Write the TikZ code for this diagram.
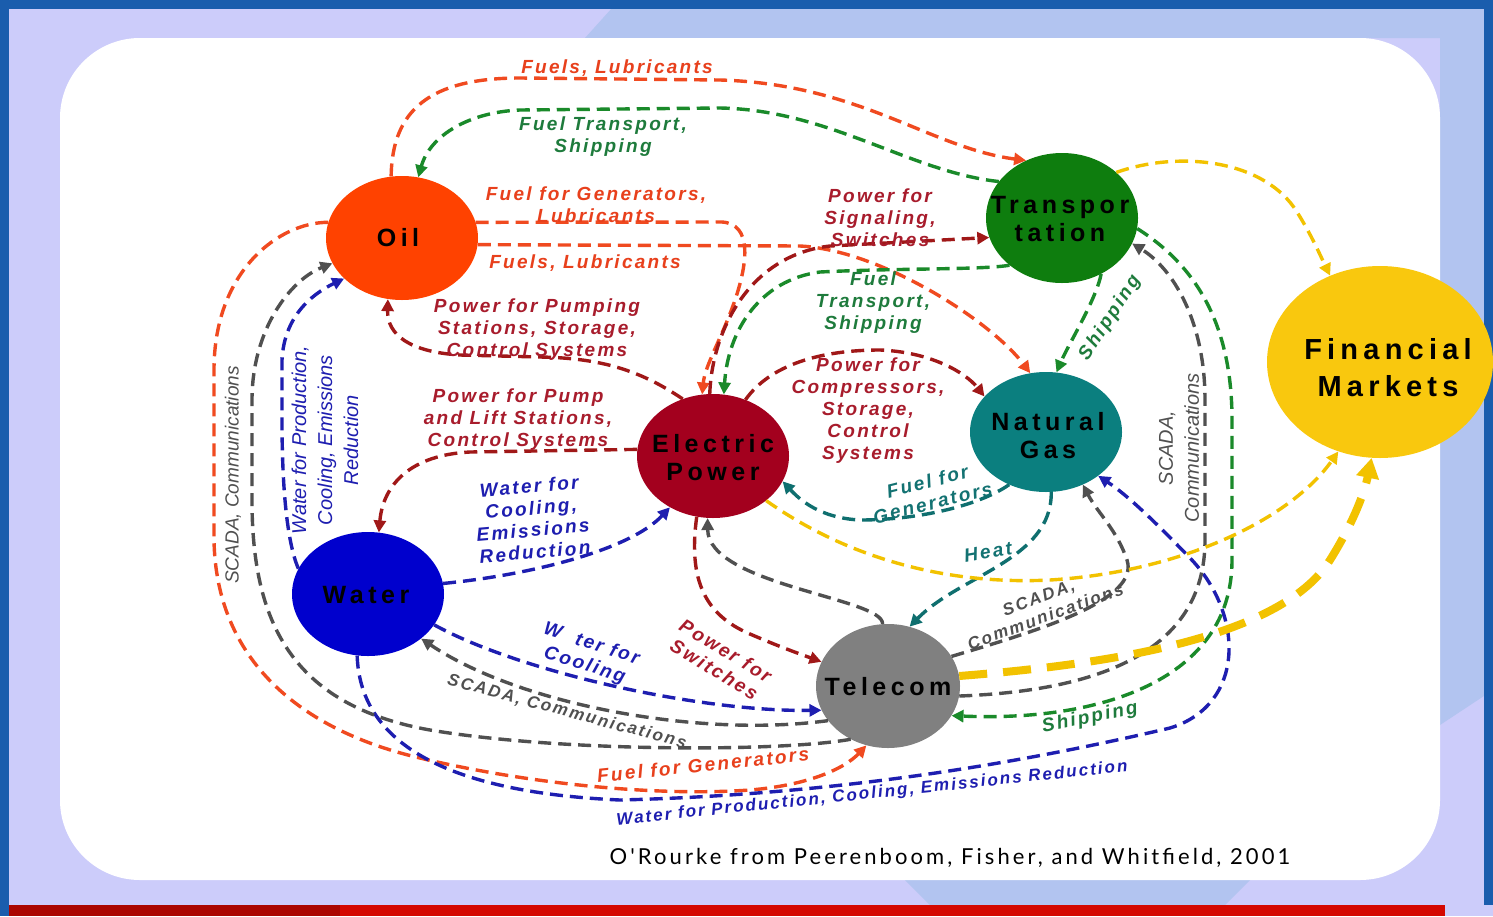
\documentclass[tikz,border=0pt]{standalone}
\usepackage{fontspec}
\setmainfont{Liberation Sans}
\newfontfamily\tagfam[LetterSpace=12]{Liberation Sans}
\newfontfamily\vtagfam{Liberation Sans}
\newfontfamily\hubfam[LetterSpace=18]{Liberation Sans}
\newfontfamily\credfam[LetterSpace=14]{Lato}
\usetikzlibrary{shapes.geometric, arrows.meta}

\definecolor{lavender}{HTML}{CCCCFA}
\definecolor{paleblue}{HTML}{B2C4F0}
\definecolor{framebl}{HTML}{1A5DAD}
\definecolor{barred}{HTML}{D40800}
\definecolor{oilfill}{HTML}{FF4200}
\definecolor{transfill}{HTML}{0E7D0E}
\definecolor{finfill}{HTML}{F9C80E}
\definecolor{gasfill}{HTML}{0B7F7F}
\definecolor{elecfill}{HTML}{A3001E}
\definecolor{waterfill}{HTML}{0000CD}
\definecolor{telfill}{HTML}{808080}
\definecolor{oilln}{HTML}{F04A20}
\definecolor{elecln}{HTML}{A01818}
\definecolor{transln}{HTML}{1A8A2A}
\definecolor{gasln}{HTML}{0F6F6F}
\definecolor{waterln}{HTML}{1E1EB0}
\definecolor{telln}{HTML}{505050}
\definecolor{finln}{HTML}{F2C200}
\definecolor{oiltx}{HTML}{E8401C}
\definecolor{electx}{HTML}{A81C2C}
\definecolor{transtx}{HTML}{1E7B3C}
\definecolor{gastx}{HTML}{137272}

\begin{document}
\begin{tikzpicture}[x=1pt, y=-1pt,
  hub/.style={ellipse, inner sep=0pt, minimum width=152pt, minimum height=124pt},
  hubtext/.style={font=\hubfam\bfseries\fontsize{25}{28}\selectfont, text=black, align=center},
  flow/.style={line width=3.4pt, dash pattern=on 13pt off 7pt, -{Triangle[length=12pt,width=12pt]}},
  finthick/.style={line width=8pt, dash pattern=on 28pt off 16pt, draw=finln, -{Triangle[length=20pt,width=22pt]}},
  tag/.style={font=\tagfam\bfseries\itshape\fontsize{19}{22}\selectfont, align=center, inner sep=0pt},
  smalltag/.style={font=\tagfam\bfseries\itshape\fontsize{17}{20}\selectfont, align=center, inner sep=0pt},
  vtag/.style={font=\vtagfam\itshape\fontsize{20}{26}\selectfont, align=center, inner sep=0pt, rotate=90}]
\useasboundingbox (0,0) rectangle (1493,916);

% background
\fill[lavender] (0,0) rectangle (1493,916);
\fill[paleblue] (612,8) -- (1493,8) -- (1493,690) -- (1440,725) -- (1440,38) -- (585,38) -- cycle;
\fill[paleblue] (905,880) -- (1250,880) -- (1225,905) -- (930,905) -- cycle;
\fill[framebl] (0,0) rectangle (1493,9);
\fill[framebl] (0,0) rectangle (9,916);
\fill[framebl] (1484,0) rectangle (1493,905);
\fill[barred] (9,905) rectangle (1445,916);
\fill[barred!80!black] (9,905) rectangle (340,916);
\fill[white, rounded corners=80pt] (60,38) rectangle (1440,880);

% sectors
\node[hub, fill=oilfill] (oil) at (402,238) {};
\node[hub, fill=transfill, minimum height=130pt] (trans) at (1062,218) {};
\node[hub, fill=finfill, minimum width=226pt, minimum height=192pt] (fin) at (1380,362) {};
\node[hub, fill=gasfill, minimum height=120pt] (gas) at (1046,432) {};
\node[hub, fill=elecfill] (elec) at (713,456) {};
\node[hub, fill=waterfill] (water) at (368,594) {};
\node[hub, fill=telfill, minimum width=144pt] (telecom) at (888,686) {};

\node[hubtext] (oilname) at (398,238) {Oil};
\node[hubtext] (transname) at (1060,219) {Transpor\\tation};
\node[hubtext, font=\hubfam\bfseries\fontsize{29}{37}\selectfont] (finname) at (1388,368) {Financial\\Markets};
\node[hubtext] (gasname) at (1048,436) {Natural\\Gas};
\node[hubtext] (elecname) at (713,458) {Electric\\Power};
\node[hubtext] (watername) at (366,595) {Water};
\node[hubtext] (telname) at (888,687) {Telecom};

% from oil
\draw[flow, draw=oilln] (oil.100) .. controls (392,110) and (430,78) .. (520,78) -- (720,80) .. controls (860,84) and (930,148) .. (trans.122);
\draw[flow, draw=oilln] (oil.12) -- (722,222) .. controls (752,224) and (748,262) .. (735,300) .. controls (722,338) and (705,365) .. (elec.100);
\draw[flow, draw=oilln] (oil.-5) -- (800,246) .. controls (880,250) and (990,320) .. (gas.105);
\draw[flow, draw=oilln] (oil.168) .. controls (280,222) and (214,270) .. (214,370) -- (214,540) .. controls (216,660) and (300,730) .. (420,758) .. controls (520,782) and (650,797) .. (750,790) .. controls (810,785) and (845,768) .. (telecom.-110);

% from electric power
\draw[flow, draw=elecln] (elec.118) .. controls (640,370) and (600,358) .. (540,357) -- (460,355) .. controls (410,352) and (387,335) .. (oil.-103);
\draw[flow, draw=elecln] (elec.93) .. controls (712,330) and (750,255) .. (830,246) -- (trans.195);
\draw[flow, draw=elecln] (elec.60) .. controls (770,365) and (820,350) .. (880,350) .. controls (930,352) and (965,372) .. (gas.150);
\draw[flow, draw=elecln] (elec.175) -- (470,452) .. controls (410,455) and (383,485) .. (water.80);
\draw[flow, draw=elecln] (elec.-105) .. controls (688,580) and (705,615) .. (750,634) .. controls (780,647) and (800,654) .. (telecom.160);

% from transportation
\draw[flow, draw=transln] (trans.150) .. controls (910,172) and (830,110) .. (720,108) -- (520,110) .. controls (470,112) and (430,135) .. (oil.75);
\draw[flow, draw=transln] (trans.222) .. controls (980,270) and (900,268) .. (820,272) .. controls (760,280) and (728,330) .. (elec.80);
\draw[flow, draw=transln] (trans.-55) .. controls (1096,300) and (1068,345) .. (gas.80);
\draw[flow, draw=transln] (trans.-8) .. controls (1200,268) and (1232,330) .. (1232,420) -- (1232,560) .. controls (1232,680) and (1100,722) .. (telecom.-25);

% from natural gas
\draw[flow, draw=gasln] (gas.235) .. controls (980,505) and (920,520) .. (860,520) .. controls (820,518) and (800,500) .. (elec.-20);
\draw[flow, draw=gasln] (gas.-85) .. controls (1052,560) and (960,575) .. (telecom.70);

% from water
\draw[flow, draw=waterln] (water.8) .. controls (530,575) and (630,550) .. (elec.-130);
\draw[flow, draw=waterln] (water.-25) .. controls (520,672) and (700,712) .. (telecom.-160);
\draw[flow, draw=waterln] (water.160) .. controls (286,540) and (282,480) .. (282,420) -- (282,360) .. controls (284,318) and (310,295) .. (oil.-145);
\draw[flow, draw=waterln] (water.-100) .. controls (360,740) and (440,792) .. (620,800) .. controls (820,795) and (1000,768) .. (1170,728) .. controls (1245,705) and (1245,615) .. (1190,558) .. controls (1160,527) and (1130,497) .. (gas.-40);

% from telecom
\draw[flow, draw=telln] (telecom.-150) .. controls (700,738) and (520,705) .. (water.-40);
\draw[flow, draw=telln] (telecom.-125) .. controls (780,752) and (560,752) .. (430,730) .. controls (290,705) and (252,620) .. (252,500) -- (252,400) .. controls (252,330) and (290,280) .. (oil.-160);
\draw[flow, draw=telln] (telecom.95) .. controls (884,598) and (708,585) .. (elec.-95);
\draw[flow, draw=telln] (telecom.25) .. controls (1040,630) and (1140,600) .. (1127,560) .. controls (1117,530) and (1097,512) .. (gas.-55);
\draw[flow, draw=telln] (telecom.-8) .. controls (1120,690) and (1205,640) .. (1205,540) -- (1205,400) .. controls (1205,320) and (1172,268) .. (trans.-20);

% to financial markets
\draw[flow, draw=finln] (trans.40) .. controls (1180,150) and (1265,160) .. (1297,212) .. controls (1312,236) and (1320,255) .. (fin.120);
\draw[flow, draw=finln] (elec.-40) .. controls (850,560) and (950,585) .. (1050,580) .. controls (1180,572) and (1290,520) .. (fin.-115);
\draw[finthick] (telecom.8) .. controls (1100,665) and (1280,640) .. (1330,560) .. controls (1355,520) and (1365,490) .. (fin.-95);

% labels
\node[tag, text=oiltx] (tFuelsTop) at (617,68) {Fuels, Lubricants};
\node[tag, text=transtx] (tFuelShipTop) at (603,137) {Fuel Transport,\\Shipping};
\node[tag, text=oiltx] (tFuelGen) at (596,205) {Fuel for Generators,\\Lubricants};
\node[tag, text=oiltx] (tFuelsMid) at (585,263) {Fuels, Lubricants};
\node[tag, text=electx] (tPumping) at (537,330) {Power for Pumping\\Stations, Storage,\\Control Systems};
\node[tag, text=electx] (tSignal) at (880,218) {Power for\\Signaling,\\Switches};
\node[tag, text=transtx] (tFuelShipMid) at (873,303) {Fuel\\Transport,\\Shipping};
\node[tag, text=electx] (tCompress) at (868,411) {Power for\\Compressors,\\Storage,\\Control\\Systems};
\node[tag, text=transtx, rotate=57] (tShipGas) at (1110,318) {Shipping};
\node[tag, text=electx] (tPumpLift) at (518,420) {Power for Pump\\and Lift Stations,\\Control Systems};
\node[tag, text=waterln, rotate=5] (tCoolElec) at (532,519) {Water for\\Cooling,\\Emissions\\Reduction};
\node[tag, text=gastx, rotate=14] (tFuelGenGas) at (930,492) {Fuel for\\Generators};
\node[tag, text=gastx, rotate=10] (tHeat) at (988,552) {Heat};
\node[smalltag, text=telln, rotate=20] (tScadaGas) at (1042,607) {SCADA,\\Communications};
\node[tag, text=transtx, rotate=12] (tShipTel) at (1090,718) {Shipping};
\node[tag, text=waterln, rotate=-18] (tCoolTel) at (588,655) {W~~ter for\\Cooling};
\node[smalltag, text=telln, rotate=-15] (tScadaWater) at (567,712) {SCADA, Communications};
\node[tag, text=electx, rotate=-31] (tSwitches) at (720,660) {Power for\\Switches};
\node[tag, text=oiltx, rotate=6] (tFuelGenTel) at (703,765) {Fuel for Generators};
\node[smalltag, text=waterln, rotate=6] (tWaterProdGas) at (872,794) {Water for Production, Cooling, Emissions Reduction};
\node[vtag, text=telln, font=\vtagfam\itshape\fontsize{19}{24}\selectfont] (tScadaOil) at (233,475) {SCADA, Communications};
\node[vtag, text=waterln] (tWaterProdOil) at (325,440) {Water for Production,\\Cooling, Emissions\\Reduction};
\node[vtag, text=telln] (tScadaTrans) at (1179,448) {SCADA,\\Communications};

\node[font=\credfam\fontsize{22}{26}\selectfont, text=black, inner sep=0pt] (credit) at (950,858) {O'Rourke from Peerenboom, Fisher, and Whitfield, 2001};
\end{tikzpicture}
\end{document}
